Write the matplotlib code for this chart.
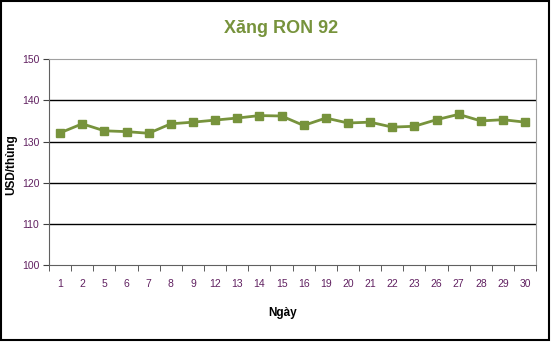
import numpy as np
from matplotlib import pyplot as plt

plt.rcParams['font.family'] = ['Liberation Sans', 'DejaVu Sans']

days = ['1', '2', '5', '6', '7', '8', '9', '12', '13', '14', '15', '16',
        '19', '20', '21', '22', '23', '26', '27', '28', '29', '30']
prices = [132.1, 134.3, 132.6, 132.4, 132.0, 134.3, 134.7, 135.2, 135.7, 136.3, 136.2,
          133.9, 135.7, 134.5, 134.7, 133.5, 133.7, 135.3, 136.6, 135.0, 135.3, 134.7]

green = '#77933C'
tick_col = '#602060'

fig = plt.figure(figsize=(5.53, 3.46), dpi=100)
ax = fig.add_axes([0.0886, 0.234, 0.881, 0.595])

x = np.arange(len(days))
ax.plot(x, prices, color=green, lw=2, marker='s', ms=6, mec=green, mfc=green)

ax.set_xlim(-0.5, len(days) - 0.5)
ax.set_ylim(100, 150)
ax.set_yticks(np.arange(100, 151, 10))
ax.set_xticks(x)
ax.set_xticklabels(days)
ax.set_xticks(np.arange(-0.5, len(days), 1), minor=True)
ax.tick_params(axis='x', which='major', length=0, pad=10, labelsize=7.5, labelcolor=tick_col)
ax.tick_params(axis='x', which='minor', length=4, direction='out', color='#404040')
ax.tick_params(axis='y', length=4, direction='out', labelsize=7.5, labelcolor=tick_col,
               color='#404040', pad=3)

for v in [110, 120, 130, 140]:
    ax.axhline(v, color='black', lw=1, zorder=0)

for s in ['top', 'right']:
    ax.spines[s].set_color('#a0a0a0')
ax.spines['left'].set_color('#606060')
ax.spines['bottom'].set_color('#606060')

ax.set_xlabel('Ngày', fontsize=8.5, fontweight='bold')
ax.xaxis.set_label_coords(0.48, -0.205)
fig.text(11 / 553, 0.523, 'USD/thùng', rotation=90, ha='center', va='center',
         fontsize=8.5, fontweight='bold')
fig.text(0.508, 0.919, 'Xăng RON 92', ha='center', va='center', fontsize=13,
         fontweight='bold', color=green)

fig.patches.append(plt.Rectangle((0.002, 6 / 346), 548 / 553, 1 - 7 / 346,
                                 transform=fig.transFigure, fill=False,
                                 ec='black', lw=1.5))
fig.savefig('out.png', dpi=100)
